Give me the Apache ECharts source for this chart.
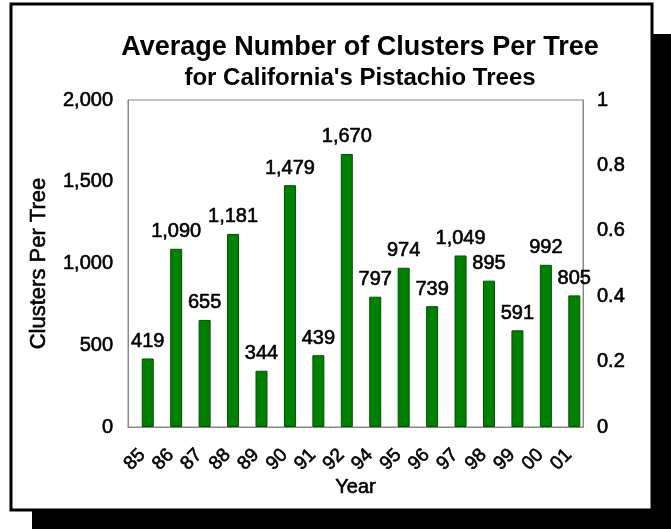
<!DOCTYPE html>
<html><head><meta charset="utf-8">
<script src="https://cdn.jsdelivr.net/npm/echarts@6/dist/echarts.min.js"></script>
<style>html,body{margin:0;padding:0;background:#fff}#c{width:671px;height:529px}</style>
</head><body><div id="c"></div>
<script>
const years = ['85','86','87','88','89','90','91','92','94','95','96','97','98','99','00','01'];
const clusters = [419,1090,655,1181,344,1479,439,1670,797,974,739,1049,895,591,992,805];
const secondaryValues = [];
const titleText = 'Average Number of Clusters Per Tree';
const subtitleText = "for California's Pistachio Trees";

const chart = echarts.init(document.getElementById('c'));
const font = 'Liberation Sans, Arial, sans-serif';
const thick = {textBorderColor:'#000', textBorderWidth:0.6};
chart.setOption({
  animation: false,
  backgroundColor: '#fff',
  graphic: [
    {type:'rect', z:-10, shape:{x:32,y:34,width:639,height:495}, style:{fill:'#000'}},
    {type:'rect', z:-9, shape:{x:11,y:4,width:641,height:506}, style:{fill:'#fff', stroke:'#000', lineWidth:3}}
  ],
  title: [
    {text: titleText, left: 355, top: 29, textAlign:'center',
     textStyle:{fontFamily:font, fontWeight:'bold', fontSize:27, color:'#000'}},
    {text: subtitleText, left: 355, top: 61, textAlign:'center',
     textStyle:{fontFamily:font, fontWeight:'bold', fontSize:24, color:'#000'}}
  ],
  grid: {left:128, right:88, top:100, bottom:102, show:true, borderColor:'#888', borderWidth:1, backgroundColor:'transparent'},
  xAxis: {
    type:'category', data: years,
    name:'Year', nameLocation:'middle', nameGap:50, nameMoveOverlap:false,
    nameTextStyle:Object.assign({fontFamily:font, fontSize:20, color:'#000'}, thick),
    axisLine:{lineStyle:{color:'#888'}}, axisTick:{show:false},
    axisLabel:Object.assign({rotate:45, fontFamily:font, fontSize:19, color:'#000', margin:25, interval:0}, thick)
  },
  yAxis: [
    {type:'value', min:0, max:2000, interval:500,
     name:'Clusters Per Tree', nameLocation:'middle', nameGap:78, nameRotate:90,
     nameTextStyle:Object.assign({fontFamily:font, fontSize:22, color:'#000'}, thick),
     axisLine:{show:true, lineStyle:{color:'#888'}}, axisTick:{show:false}, splitLine:{show:false},
     axisLabel:Object.assign({fontFamily:font, fontSize:20, color:'#000', margin:15,
       formatter: v => v.toLocaleString('en-US')}, thick)},
    {type:'value', min:0, max:1, interval:0.2, position:'right',
     axisLine:{show:true, lineStyle:{color:'#888'}}, axisTick:{show:false}, splitLine:{show:false},
     axisLabel:Object.assign({fontFamily:font, fontSize:20, color:'#000', margin:14,
       formatter: v => String(Math.round(v*10)/10)}, thick)}
  ],
  series: [
    {type:'bar', yAxisIndex:1, data: secondaryValues, barWidth:12, silent:true},
    {type:'bar', data: clusters, barWidth: 12, barGap:'-8%',
    itemStyle:{color:'#008000', borderColor:'#005000', borderWidth:1},
    label:Object.assign({show:true, position:'top', distance:7, fontFamily:font, fontSize:20, color:'#000',
      formatter: p => p.value.toLocaleString('en-US')}, thick)
  }]
});
</script></body></html>
